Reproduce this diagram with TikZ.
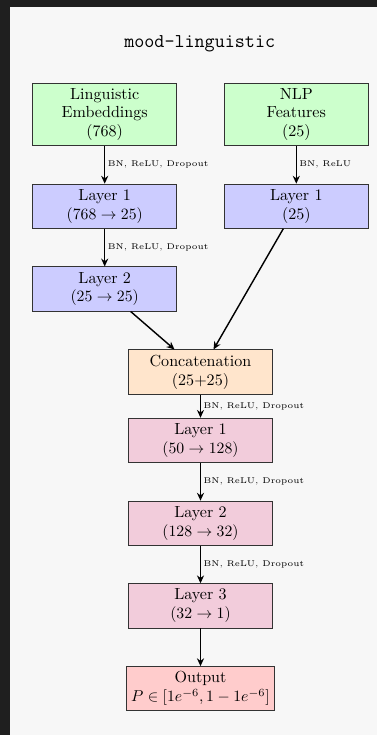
\documentclass[tikz,border=0pt]{standalone}
\usetikzlibrary{arrows.meta}

\definecolor{pagebg}{HTML}{1F1F1F}
\definecolor{panelbg}{HTML}{F7F7F7}
\definecolor{inputfill}{HTML}{CCFFCC}
\definecolor{branchfill}{HTML}{CCCCFF}
\definecolor{catfill}{HTML}{FFE5CC}
\definecolor{headfill}{HTML}{F2CCDB}
\definecolor{outfill}{HTML}{FFCCCC}

\tikzset{
  box/.style={draw=black!80, line width=0.5pt, align=center,
    minimum width=91.4pt, minimum height=28.1pt, inner sep=3pt,
    font=\fontsize{10.2}{12}\selectfont},
  inbox/.style={box, fill=inputfill, minimum height=39.6pt},
  brbox/.style={box, fill=branchfill},
  catbox/.style={box, fill=catfill},
  hdbox/.style={box, fill=headfill},
  outbox/.style={box, fill=outfill},
  arr/.style={-{Stealth[length=5pt,width=4.5pt]}, line width=0.9pt},
  lbl/.style={midway, right, font=\fontsize{5.3}{6}\selectfont, inner sep=1.5pt},
}

\begin{document}
\begin{tikzpicture}[x=0.635pt, y=-0.635pt]
  % page and panel
  \fill[pagebg] (0,0) rectangle (377,735);
  \fill[panelbg] (10,7) rectangle (377,735);
  \useasboundingbox (0,0) rectangle (377,735);

  % title
  \node (title) at (199.7,43.3) {\fontsize{12.4}{15}\selectfont\ttfamily mood-linguistic};

  % input branches
  \node[inbox] (emb) at (104.7,114.5) {Linguistic\\Embeddings\\(768)};
  \node[inbox] (nlp) at (296.3,114.5) {NLP\\Features\\(25)};

  \node[brbox] (l1a) at (104.7,206.2) {Layer 1\\$(768 \to 25)$};
  \node[brbox] (l1b) at (296.3,206.2) {Layer 1\\(25)};
  \node[brbox] (l2a) at (104.7,289) {Layer 2\\$(25 \to 25)$};

  % fusion and head
  \node[catbox] (cat) at (200.5,372) {Concatenation\\(25+25)};
  \node[hdbox] (f1) at (200.5,440.3) {Layer 1\\$(50 \to 128)$};
  \node[hdbox] (f2) at (200.5,523.2) {Layer 2\\$(128 \to 32)$};
  \node[hdbox] (f3) at (200.5,605.8) {Layer 3\\$(32 \to 1)$};
  \node[outbox] (out) at (200.5,688.7) {Output\\$P \in [1e^{-6}, 1 - 1e^{-6}]$};

  % connections
  \draw[arr] (emb) -- node[lbl] {BN, ReLU, Dropout} (l1a);
  \draw[arr] (l1a) -- node[lbl] {BN, ReLU, Dropout} (l2a);
  \draw[arr] (nlp) -- node[lbl] {BN, ReLU} (l1b);
  \draw[arr] (l2a) -- (cat);
  \draw[arr] (l1b) -- (cat);
  \draw[arr] (cat) -- node[lbl] {BN, ReLU, Dropout} (f1);
  \draw[arr] (f1) -- node[lbl] {BN, ReLU, Dropout} (f2);
  \draw[arr] (f2) -- node[lbl] {BN, ReLU, Dropout} (f3);
  \draw[arr] (f3) -- (out);
\end{tikzpicture}
\end{document}
